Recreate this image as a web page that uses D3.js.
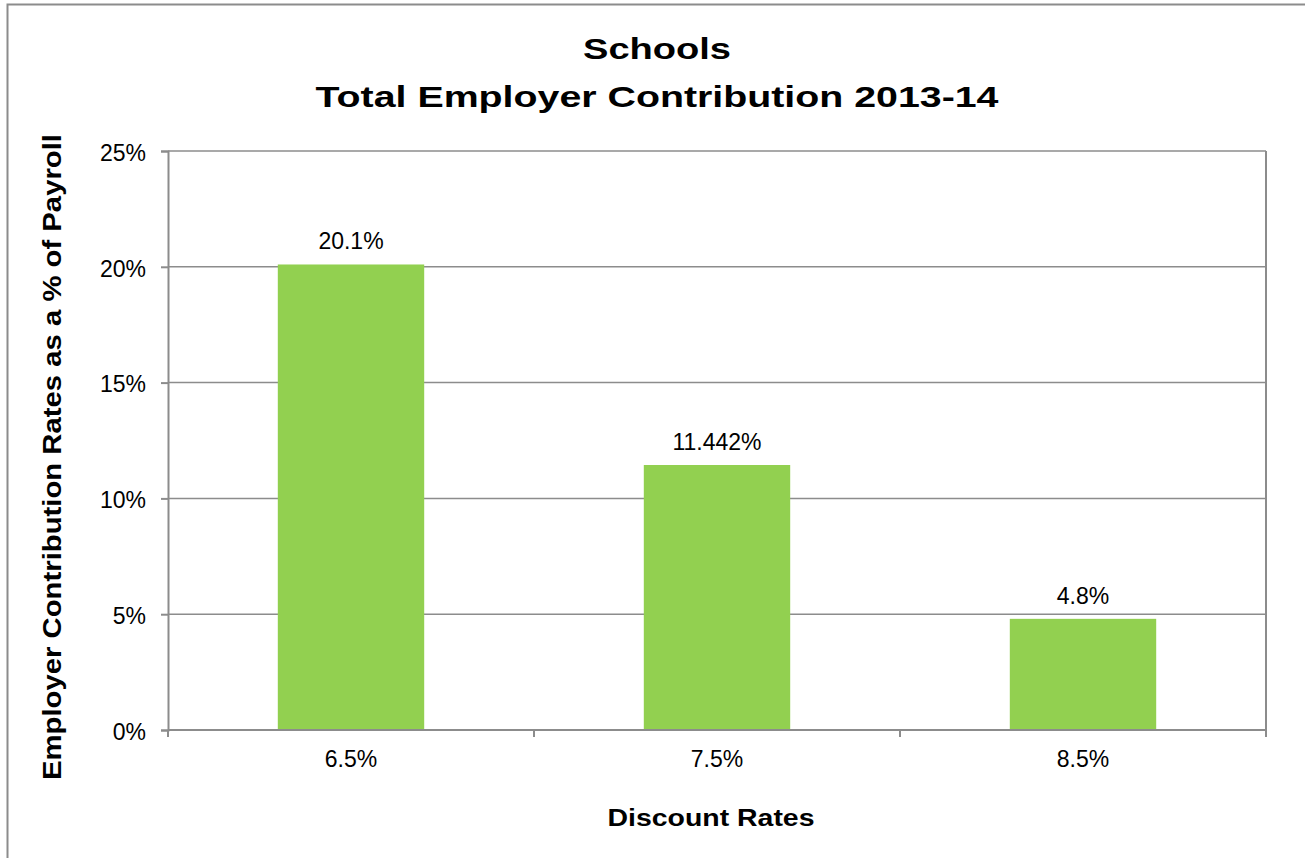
<!DOCTYPE html>
<html>
<head>
<meta charset="utf-8">
<script src="https://cdn.jsdelivr.net/npm/d3@7"></script>
<style>
  html, body { margin: 0; padding: 0; background: #fff; }
  svg { display: block; font-family: "Liberation Sans", Arial, sans-serif; }
</style>
</head>
<body>
<svg id="chart" width="1305" height="858"></svg>
<script>
// Discount-rate scenarios and the resulting employer contribution (% of payroll)
const discountRates = ["6.5%", "7.5%", "8.5%"];
const contributionRates = [20.1, 11.442, 4.8];
const valueLabels = ["20.1%", "11.442%", "4.8%"];
const yTicks = [0, 5, 10, 15, 20, 25];
const titleLines = ["Schools", "Total Employer Contribution 2013-14"];

const svg = d3.select("#chart");
const plot = { left: 168, right: 1266, top: 151, bottom: 730 };
const gridColor = "#8c8c8c";

// Outer chart frame
svg.append("rect")
  .attr("x", 7.5).attr("y", 4.5)
  .attr("width", 1320).attr("height", 900)
  .attr("fill", "#fff")
  .attr("stroke", "#8c8c8c").attr("stroke-width", 2);

const x = d3.scaleBand()
  .domain(discountRates)
  .range([plot.left, plot.right])
  .paddingInner(0.6).paddingOuter(0.3);

const y = d3.scaleLinear()
  .domain([0, 25])
  .range([plot.bottom, plot.top]);

// Horizontal gridlines
svg.append("g")
  .selectAll("line")
  .data(yTicks.filter(t => t > 0))
  .join("line")
  .attr("x1", plot.left).attr("x2", plot.right)
  .attr("y1", d => y(d)).attr("y2", d => y(d))
  .attr("stroke", gridColor).attr("stroke-width", 1.5);

// Right border of the plot area
svg.append("line")
  .attr("x1", plot.right).attr("x2", plot.right)
  .attr("y1", plot.top).attr("y2", plot.bottom)
  .attr("stroke", gridColor).attr("stroke-width", 2);

// Bars
svg.append("g")
  .selectAll("rect")
  .data(contributionRates)
  .join("rect")
  .attr("x", (d, i) => x(discountRates[i]))
  .attr("width", x.bandwidth())
  .attr("y", d => y(d))
  .attr("height", d => y(0) - y(d))
  .attr("fill", "#92d050");

// Value labels
svg.append("g")
  .selectAll("text")
  .data(contributionRates)
  .join("text")
  .attr("x", (d, i) => x(discountRates[i]) + x.bandwidth() / 2)
  .attr("y", d => y(d) - 15)
  .attr("text-anchor", "middle")
  .attr("font-size", 23)
  .attr("fill", "#000")
  .text((d, i) => valueLabels[i]);

// Y axis
const yAxis = d3.axisLeft(y)
  .tickValues(yTicks)
  .tickFormat(d => d + "%")
  .tickSize(7)
  .tickPadding(15);
const gy = svg.append("g")
  .attr("transform", `translate(${plot.left},0)`)
  .call(yAxis);
gy.select(".domain").attr("stroke", gridColor).attr("stroke-width", 2);
gy.selectAll(".tick line").attr("stroke", gridColor).attr("stroke-width", 2);
gy.selectAll(".tick text")
  .attr("font-size", 23).attr("fill", "#000")
  .attr("dy", "0.4em")
  .attr("font-family", "Liberation Sans, Arial, sans-serif");

// X axis: category boundaries carry the ticks, labels sit at band centres
const gx = svg.append("g")
  .attr("transform", `translate(0,${plot.bottom})`);
gx.append("line")
  .attr("x1", plot.left).attr("x2", plot.right)
  .attr("stroke", gridColor).attr("stroke-width", 2);
const step = (plot.right - plot.left) / discountRates.length;
gx.selectAll("line.tick")
  .data(d3.range(discountRates.length + 1))
  .join("line")
  .attr("class", "tick")
  .attr("x1", i => plot.left + i * step).attr("x2", i => plot.left + i * step)
  .attr("y1", 0).attr("y2", 7)
  .attr("stroke", gridColor).attr("stroke-width", 2);
gx.selectAll("text")
  .data(discountRates)
  .join("text")
  .attr("x", d => x(d) + x.bandwidth() / 2)
  .attr("y", 37)
  .attr("text-anchor", "middle")
  .attr("font-size", 23)
  .attr("fill", "#000")
  .text(d => d);

// Chart title (wide bold lettering)
const titleWidths = [148, 683];
svg.append("g")
  .selectAll("text")
  .data(titleLines)
  .join("text")
  .attr("x", 657)
  .attr("y", (d, i) => 59 + i * 48)
  .attr("text-anchor", "middle")
  .attr("font-size", 30)
  .attr("font-weight", "bold")
  .attr("textLength", (d, i) => titleWidths[i])
  .attr("lengthAdjust", "spacingAndGlyphs")
  .attr("fill", "#000")
  .text(d => d);

// Axis titles
svg.append("text")
  .attr("x", 711).attr("y", 826)
  .attr("text-anchor", "middle")
  .attr("font-size", 23).attr("font-weight", "bold")
  .attr("textLength", 207)
  .attr("lengthAdjust", "spacingAndGlyphs")
  .attr("fill", "#000")
  .text("Discount Rates");

svg.append("text")
  .attr("transform", "translate(61,457) rotate(-90)")
  .attr("text-anchor", "middle")
  .attr("font-size", 25).attr("font-weight", "bold")
  .attr("textLength", 646)
  .attr("lengthAdjust", "spacingAndGlyphs")
  .attr("fill", "#000")
  .text("Employer Contribution Rates as a % of Payroll");
</script>
</body>
</html>
